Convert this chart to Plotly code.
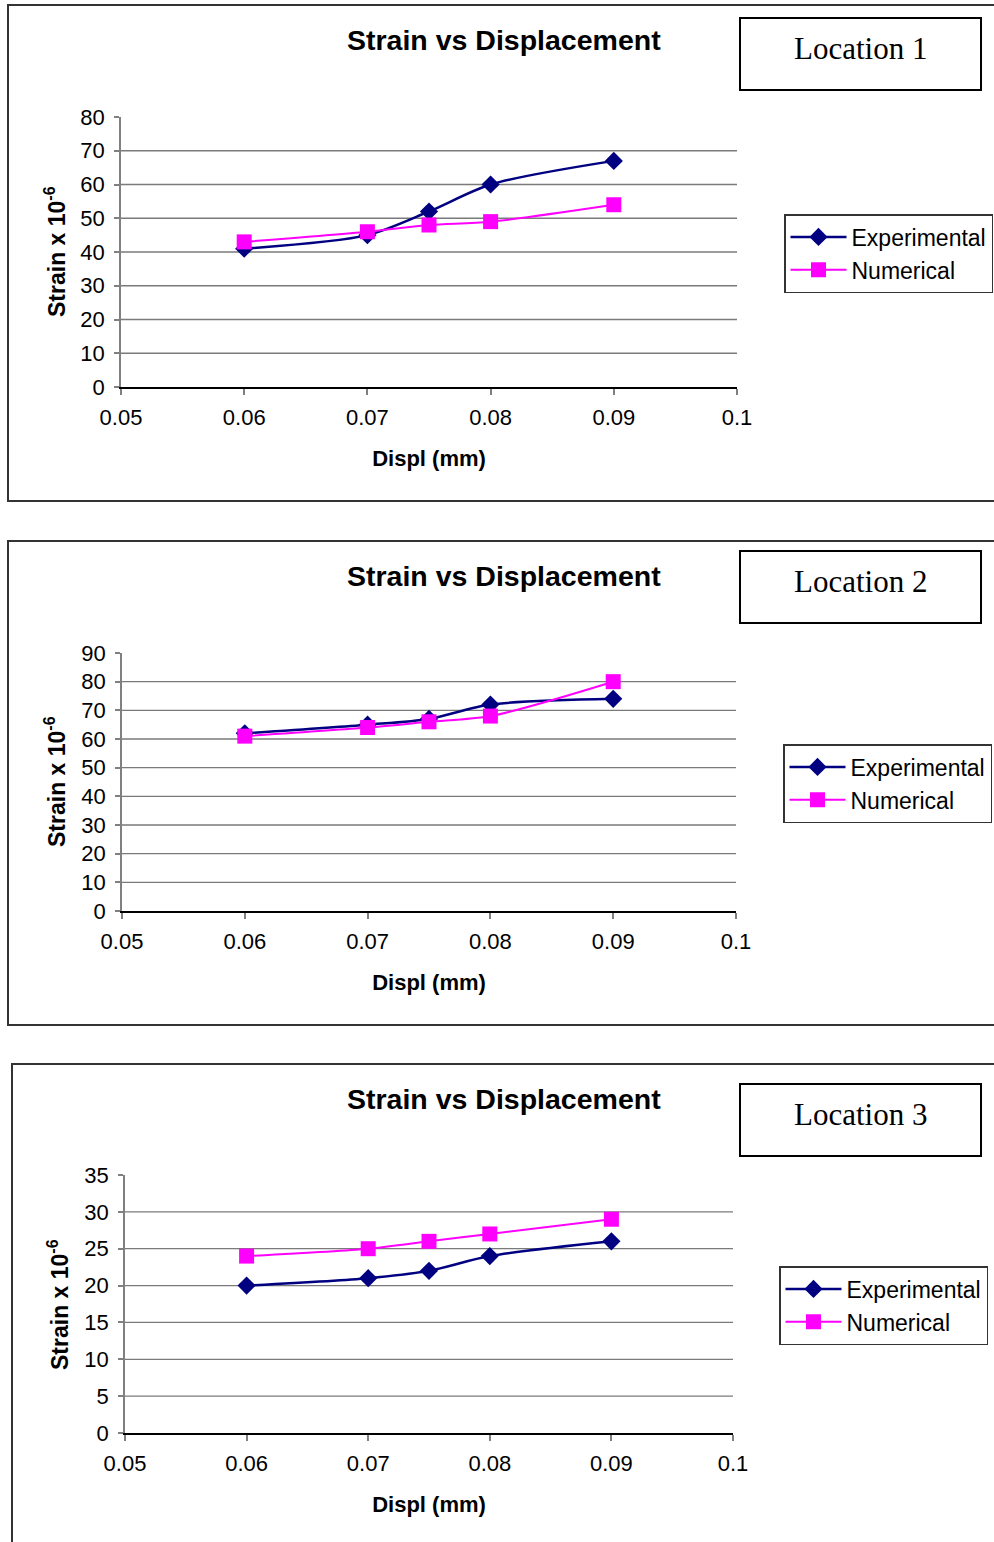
import plotly.graph_objects as go

W, H = 994, 1542

# ---------------- data ----------------
displ = [0.06, 0.07, 0.075, 0.08, 0.09]

loc1_experimental = [41, 45, 52, 60, 67]
loc1_numerical = [43, 46, 48, 49, 54]

loc2_experimental = [62, 65, 67, 72, 74]
loc2_numerical = [61, 64, 66, 68, 80]

loc3_experimental = [20, 21, 22, 24, 26]
loc3_numerical = [24, 25, 26, 27, 29]

x_ticks = [0.05, 0.06, 0.07, 0.08, 0.09, 0.1]
x_tick_text = ["0.05", "0.06", "0.07", "0.08", "0.09", "0.1"]
y_ticks_1 = [0, 10, 20, 30, 40, 50, 60, 70, 80]
y_ticks_2 = [0, 10, 20, 30, 40, 50, 60, 70, 80, 90]
y_ticks_3 = [0, 5, 10, 15, 20, 25, 30, 35]

chart_title = "Strain vs Displacement"
x_title = "Displ (mm)"
y_title = "Strain x 10<sup>-6</sup>"
location_labels = ["Location 1", "Location 2", "Location 3"]
series_names = ["Experimental", "Numerical"]

# ---------------- layout geometry (pixels) ----------------
def px(v):
    return v / W

def py(v):
    return 1 - v / H

panels = [
    dict(exp=loc1_experimental, num=loc1_numerical, yt=y_ticks_1,
         plot=(121, 737, 117, 387), frame=(8, 5, 501), loc=(740, 981, 18, 90),
         title_y=41, leg=(784, 214), ytitle=(55, 252)),
    dict(exp=loc2_experimental, num=loc2_numerical, yt=y_ticks_2,
         plot=(122, 736, 653, 911), frame=(8, 541, 1025), loc=(740, 981, 551, 623),
         title_y=577, leg=(783, 744), ytitle=(55, 782)),
    dict(exp=loc3_experimental, num=loc3_numerical, yt=y_ticks_3,
         plot=(125, 733, 1175, 1433), frame=(12, 1064, 1560), loc=(740, 981, 1084, 1156),
         title_y=1100, leg=(779, 1266), ytitle=(58, 1305)),
]

FONT = "Liberation Sans, Arial, sans-serif"
SERIF = "Liberation Serif, Times New Roman, serif"
EXP_COLOR = "#000080"
NUM_COLOR = "#FF00FF"
GRID_COLOR = "#7a7a7a"

fig = go.Figure()
shapes = []
annotations = []
layout_axes = {}

for i, p in enumerate(panels):
    n = i + 1
    xa = "x" if n == 1 else f"x{n}"
    ya = "y" if n == 1 else f"y{n}"
    leg = "legend" if n == 1 else f"legend{n}"

    fig.add_trace(go.Scatter(
        x=displ, y=p["exp"], name=series_names[0], xaxis=xa, yaxis=ya, legend=leg,
        legendgroup=f"exp{n}",
        mode="lines+markers", line=dict(color=EXP_COLOR, width=2.5, shape="spline", smoothing=0.8),
        marker=dict(symbol="diamond", size=14, color=EXP_COLOR),
    ))
    fig.add_trace(go.Scatter(
        x=displ, y=p["num"], name=series_names[1], xaxis=xa, yaxis=ya, legend=leg,
        legendgroup=f"num{n}",
        mode="lines+markers", line=dict(color=NUM_COLOR, width=2, shape="spline", smoothing=0.8),
        marker=dict(symbol="square", size=15, color=NUM_COLOR),
    ))

    x0, x1, ytop, ybot = p["plot"]
    xkey = "xaxis" if n == 1 else f"xaxis{n}"
    ykey = "yaxis" if n == 1 else f"yaxis{n}"
    layout_axes[xkey] = dict(
        domain=[px(x0), px(x1)], anchor=ya, range=[x_ticks[0], x_ticks[-1]],
        tickvals=x_ticks, ticktext=x_tick_text, showgrid=False, zeroline=False,
        showline=True, linecolor="black", linewidth=1.5,
        ticks="outside", ticklen=6, tickcolor="#808080", tickwidth=1.5,
        tickfont=dict(family=FONT, size=22, color="black"), automargin=False,
        ticklabelstandoff=4,
        title=dict(text=f"<b>{x_title}</b>", font=dict(family=FONT, size=22, color="black"), standoff=21),
    )
    layout_axes[ykey] = dict(
        domain=[py(ybot), py(ytop)], anchor=xa, range=[p["yt"][0], p["yt"][-1]],
        tickvals=p["yt"], showgrid=False, zeroline=False, automargin=False,
        showline=True, linecolor="#808080", linewidth=1.5,
        ticks="outside", ticklen=5, tickcolor="#808080", tickwidth=1.5,
        tickfont=dict(family=FONT, size=22, color="black"), ticklabelstandoff=5,
    )

    # horizontal gridlines (all ticks except axis bottom and top)
    for v in p["yt"][1:-1]:
        shapes.append(dict(type="line", xref=f"{xa} domain", yref=ya, x0=0, x1=1, y0=v, y1=v,
                           line=dict(color=GRID_COLOR, width=1.3), layer="below"))

    # panel frame
    fx, ftop, fbot = p["frame"]
    shapes.append(dict(type="rect", xref="paper", yref="paper",
                       x0=px(fx), x1=1.01, y0=py(fbot), y1=py(ftop),
                       line=dict(color="#333333", width=2)))
    # location box
    lx0, lx1, ly0, ly1 = p["loc"]
    shapes.append(dict(type="rect", xref="paper", yref="paper",
                       x0=px(lx0), x1=px(lx1), y0=py(ly1), y1=py(ly0),
                       line=dict(color="black", width=2)))
    annotations.append(dict(text=location_labels[i], xref="paper", yref="paper",
                            x=px((lx0 + lx1) / 2), y=py((ly0 + ly1) / 2 - 6),
                            xanchor="center", yanchor="middle", showarrow=False,
                            font=dict(family=SERIF, size=31, color="black")))
    # chart title
    annotations.append(dict(text=f"<b>{chart_title}</b>", xref="paper", yref="paper",
                            x=px(504), y=py(p["title_y"] - 1), xanchor="center", yanchor="middle",
                            showarrow=False, font=dict(family=FONT, size=28.5, color="black")))
    # y title
    tx, ty = p["ytitle"]
    annotations.append(dict(text=f"<b>{y_title}</b>", xref="paper", yref="paper",
                            x=px(tx), y=py(ty), xanchor="center", yanchor="middle",
                            textangle=-90, showarrow=False,
                            font=dict(family=FONT, size=23, color="black")))
    # legend
    lgx, lgy = p["leg"]
    layout_axes[leg] = dict(
        x=px(lgx), y=py(lgy), xanchor="left", yanchor="top",
        bordercolor="#333333", borderwidth=1.5, bgcolor="white",
        font=dict(family=FONT, size=23, color="black"), itemwidth=56,
        tracegroupgap=0,
    )

fig.update_layout(
    width=W, height=H, autosize=False,
    margin=dict(l=0, r=0, t=0, b=0, pad=0, autoexpand=False),
    paper_bgcolor="white", plot_bgcolor="white",
    showlegend=True,
    shapes=shapes, annotations=annotations,
    **layout_axes,
)

fig.write_html("out.html")
